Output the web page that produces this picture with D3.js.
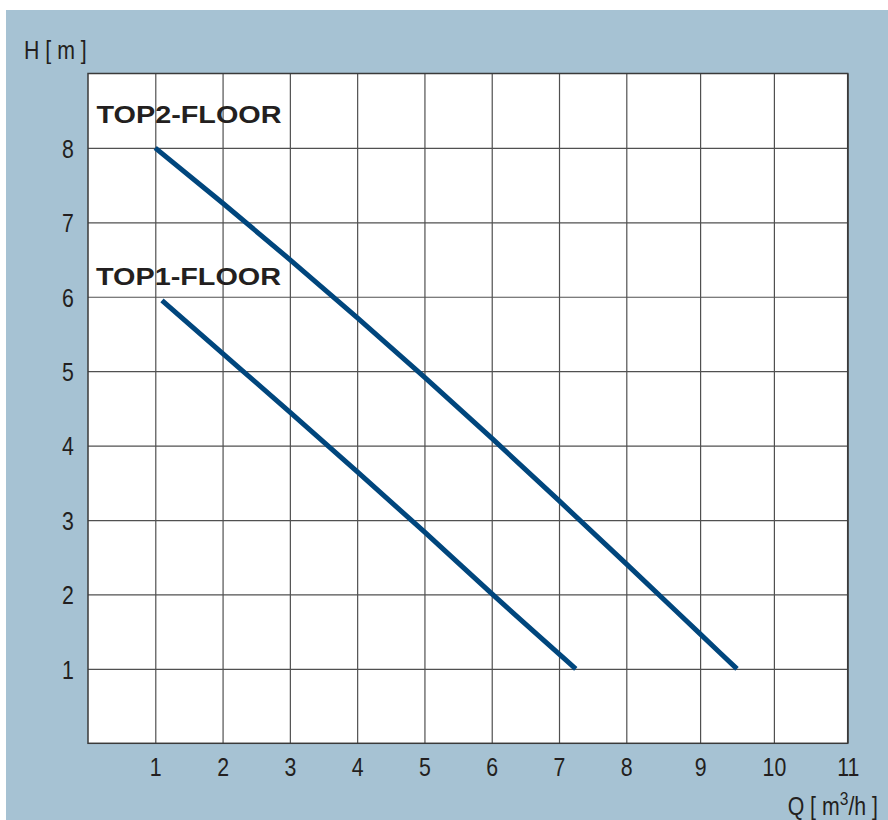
<!DOCTYPE html>
<html>
<head>
<meta charset="utf-8">
<script src="https://cdn.jsdelivr.net/npm/d3@7"></script>
<style>
    body { margin: 0; background: #fff; }
    svg { display: block; }
</style>
</head>
<body>
<div id="chart"></div>
<script>
// pump curves (Q in m3/h, H in m)
const top2Q = [1, 2, 3, 4, 5, 6, 7, 8, 9, 9.5];
const top2H = [8, 7.26, 6.5, 5.72, 4.92, 4.1, 3.26, 2.41, 1.47, 1];
const top1Q = [1.1, 2, 3, 4, 5, 6, 7.25];
const top1H = [5.95, 5.24, 4.45, 3.65, 2.84, 2.01, 1];
const xTicks = [1, 2, 3, 4, 5, 6, 7, 8, 9, 10, 11];
const yTicks = [1, 2, 3, 4, 5, 6, 7, 8];

const createChart = () => {
    const width = 888;
    const height = 820;
    const left = 88, right = 847.7, top = 73.5, bottom = 743.3;
    const font = "'Liberation Sans', Arial, sans-serif";
    const ink = "#231f20";

    const svg = d3.select("#chart")
        .append("svg")
        .attr("width", width)
        .attr("height", height);

    svg.append("rect")
        .attr("x", 6).attr("y", 10)
        .attr("width", width - 6).attr("height", height - 10)
        .style("fill", "#a6c2d3");

    // the original grid is wider past Q = 8
    const x = d3.scaleLinear().domain([0, 8, 11]).range([left, 626.3, right]);
    const y = d3.scaleLinear().domain([0, 9]).range([bottom, top]);

    svg.append("rect")
        .attr("x", left).attr("y", top)
        .attr("width", right - left).attr("height", bottom - top)
        .style("fill", "#fff");

    // narrow look for the numbers: squeeze each label round its own centre
    const narrow = sel => sel
        .style("font-family", font).style("font-size", "26px").style("fill", ink)
        .style("transform-box", "fill-box")
        .style("transform-origin", "center")
        .style("transform", "scaleX(0.82)");

    const xAxis = svg.append("g")
        .attr("transform", `translate(0,${bottom})`)
        .call(d3.axisBottom(x).tickValues(xTicks).tickSize(-(bottom - top)).tickFormat(d3.format("d")));
    xAxis.select(".domain").remove();
    xAxis.selectAll("line").style("stroke", "#505050").style("stroke-width", 1.2);
    xAxis.selectAll("text")
        .attr("y", 32.4).attr("dy", null)
        .call(narrow);

    const yAxis = svg.append("g")
        .attr("transform", `translate(${left},0)`)
        .call(d3.axisLeft(y).tickValues(yTicks).tickSize(-(right - left)));
    yAxis.select(".domain").remove();
    yAxis.selectAll("line").style("stroke", "#505050").style("stroke-width", 1.2);
    yAxis.selectAll("text")
        .attr("x", -20).attr("dy", "0.36em")
        .attr("text-anchor", "middle")
        .call(narrow);

    svg.append("rect")
        .attr("x", left).attr("y", top)
        .attr("width", right - left).attr("height", bottom - top)
        .style("fill", "none").style("stroke", "#3a3a3a").style("stroke-width", 1.5);

    const line = d3.line()
        .x(d => x(d[0]))
        .y(d => y(d[1]))
        .curve(d3.curveMonotoneX);
    const curves = [d3.zip(top2Q, top2H), d3.zip(top1Q, top1H)];

    svg.append("g")
        .selectAll("path")
        .data(curves)
        .join("path")
        .attr("d", line)
        .style("fill", "none")
        .style("stroke", "#00467d")
        .style("stroke-width", 5);

    const names = [
        { text: "TOP2-FLOOR", x: 96.5, y: 123.3 },
        { text: "TOP1-FLOOR", x: 96, y: 285 }
    ];
    svg.append("g")
        .selectAll("text")
        .data(names)
        .join("text")
        .attr("transform", d => `translate(${d.x},${d.y}) scale(1.2,1)`)
        .text(d => d.text)
        .style("font-family", font)
        .style("font-weight", "bold")
        .style("font-size", "24px")
        .style("fill", ink);

    svg.append("text")
        .attr("transform", "translate(24,59.3) scale(0.82,1)")
        .text("H [ m ]")
        .style("font-family", font).style("font-size", "26px").style("fill", ink);

    const qLabel = svg.append("text")
        .attr("transform", "translate(878,815) scale(0.82,1)")
        .attr("text-anchor", "end")
        .style("font-family", font).style("font-size", "26px").style("fill", ink);
    qLabel.append("tspan").text("Q [ m");
    qLabel.append("tspan").attr("dy", -10).style("font-size", "19px").text("3");
    qLabel.append("tspan").attr("dy", 10).text("/h ]");
};

document.addEventListener("DOMContentLoaded", createChart);
</script>
</body>
</html>
